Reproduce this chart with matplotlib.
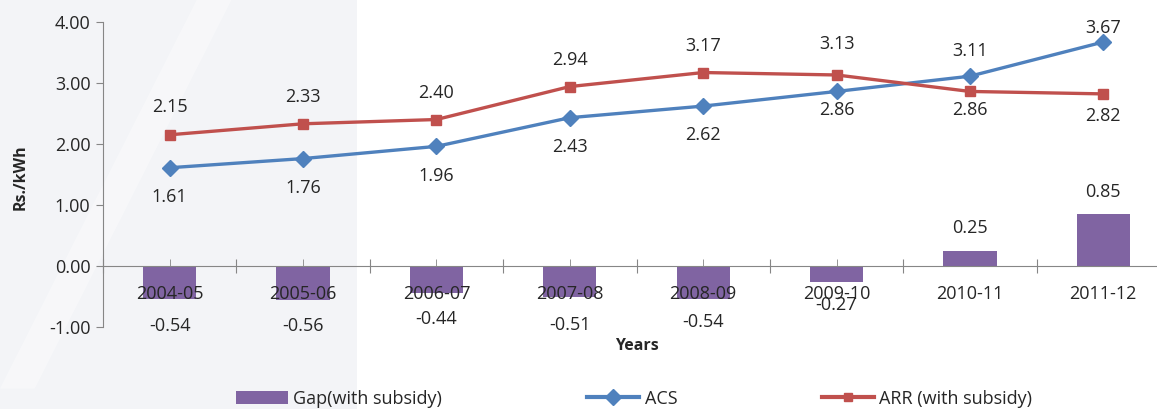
import matplotlib
matplotlib.use("Agg")
import matplotlib.pyplot as plt
from matplotlib.patches import Rectangle, Polygon, Patch
from matplotlib.lines import Line2D

plt.rcParams['font.family'] = ['Open Sans', 'DejaVu Sans']

years = ["2004-05", "2005-06", "2006-07", "2007-08", "2008-09", "2009-10", "2010-11", "2011-12"]
acs = [1.61, 1.76, 1.96, 2.43, 2.62, 2.86, 3.11, 3.67]
arr = [2.15, 2.33, 2.40, 2.94, 3.17, 3.13, 2.86, 2.82]
gap = [-0.54, -0.56, -0.44, -0.51, -0.54, -0.27, 0.25, 0.85]

# label placement (offsets in points, or y-positions for the negative gap labels)
acs_off = [-21, -21, -21, -21, -21, -13, 18, 10]
arr_off = [20, 19, 19, 19, 19, 22, -13, -16]
gap_label_y = [-0.98, -0.98, -0.87, -0.97, -0.92, -0.64, None, None]

PURPLE = "#8064A2"
BLUE = "#4F81BD"
RED = "#C0504D"
AXIS = "#868686"
TXT = "#262626"
FS = 13

fig = plt.figure(figsize=(11.57, 4.09), dpi=100)

# pale backdrop panel on the left
fig.patches.append(Rectangle((0, 0), 357 / 1157, 1, transform=fig.transFigure,
                             facecolor="#f3f4f7", edgecolor="none", zorder=0))
fig.patches.append(Polygon([(0.0, 0.05), (0.03, 0.05), (0.2, 1.0), (0.17, 1.0)],
                           closed=True, transform=fig.transFigure,
                           facecolor="white", alpha=0.35, edgecolor="none", zorder=0))

ax = fig.add_axes([103 / 1157, 0.2005, 1067 / 1157, 0.746])
ax.set_facecolor("none")
ax.set_zorder(2)

x = list(range(len(years)))
ax.bar(x, gap, width=0.4, color=PURPLE, zorder=2)
ax.plot(x, acs, color=BLUE, lw=2.4, marker="D", ms=8, zorder=3)
ax.plot(x, arr, color=RED, lw=2.4, marker="s", ms=6.5, zorder=4)

ax.set_xlim(-0.5, 7.5)
ax.set_ylim(-1, 4)

for s in ["top", "right"]:
    ax.spines[s].set_visible(False)
ax.spines["left"].set_color(AXIS)
ax.spines["bottom"].set_color(AXIS)
ax.spines["bottom"].set_position(("data", 0))

ax.set_yticks([-1, 0, 1, 2, 3, 4])
ax.set_yticklabels([f"{v:.2f}" for v in [-1, 0, 1, 2, 3, 4]], fontsize=FS, color=TXT)
ax.tick_params(axis="y", direction="out", length=5, color=AXIS, pad=4)

ax.set_xticks([i + 0.5 for i in range(-1, 8)])
ax.set_xticklabels([])
ax.tick_params(axis="x", which="major", direction="inout", length=10, color=AXIS)
ax.set_xticks(x, minor=True)
ax.tick_params(axis="x", which="minor", direction="in", length=5, color=AXIS)

for i, yr in enumerate(years):
    ax.text(i, -0.46, yr, ha="center", va="center", fontsize=FS, color=TXT, zorder=5)

for i in x:
    ax.annotate(f"{acs[i]:.2f}", (i, acs[i]), xytext=(0, acs_off[i]),
                textcoords="offset points", ha="center", va="center",
                fontsize=FS, color=TXT)
    ax.annotate(f"{arr[i]:.2f}", (i, arr[i]), xytext=(0, arr_off[i]),
                textcoords="offset points", ha="center", va="center",
                fontsize=FS, color=TXT)
    if gap[i] < 0:
        ax.text(i, gap_label_y[i], f"{gap[i]:.2f}", ha="center", va="center",
                fontsize=FS, color=TXT, zorder=5)
    else:
        ax.annotate(f"{gap[i]:.2f}", (i, gap[i]), xytext=(0, 16),
                    textcoords="offset points", ha="center", va="center",
                    fontsize=FS, color=TXT)

ax.text(3.5, -1.31, "Years", ha="center", va="center", fontsize=11.5,
        fontweight="bold", color=TXT, clip_on=False)
fig.text(21 / 1157, 1 - 177 / 409, "Rs./kWh", rotation=90, ha="center", va="center",
         fontsize=11.5, fontweight="bold", color=TXT)

handles = [Patch(facecolor=PURPLE, edgecolor="none"),
           Line2D([], [], color=BLUE, lw=3, marker="D", ms=8),
           Line2D([], [], color=RED, lw=3, marker="s", ms=6)]
fig.legend(handles, ["Gap(with subsidy)", "ACS", "ARR (with subsidy)"],
           loc="center", bbox_to_anchor=(0.548, 0.025), ncol=3, frameon=False,
           fontsize=FS, handlelength=2.9, columnspacing=8, handletextpad=0.3,
           labelcolor=TXT)

fig.savefig("out.png", dpi=100)
